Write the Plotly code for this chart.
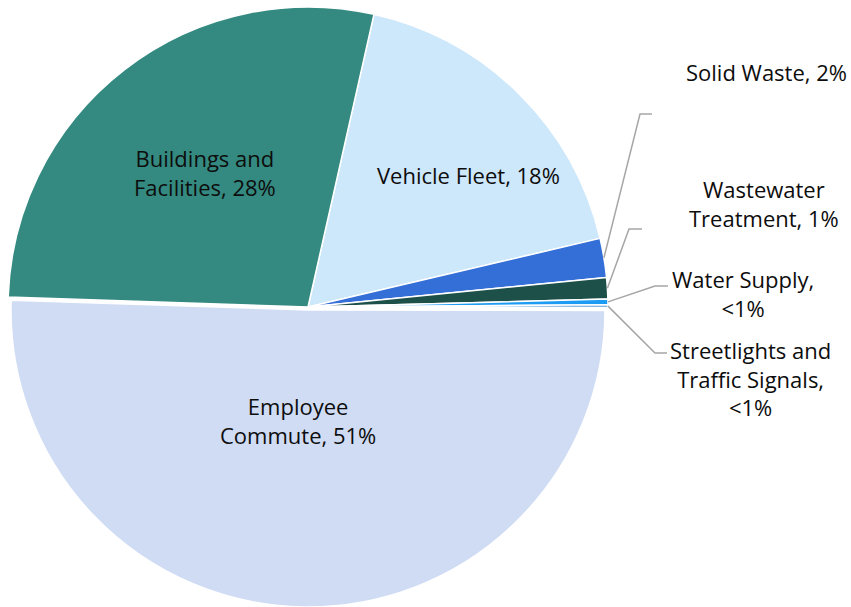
import math
import plotly.graph_objects as go

W, H = 851, 607

categories = ["Vehicle Fleet", "Solid Waste", "Wastewater Treatment", "Water Supply",
              "Streetlights and Traffic Signals", "Employee Commute", "Buildings and Facilities"]
values = [17.8, 2.1, 1.15, 0.3, 0.15, 50.5, 28.0]
colors = ["#cde7fb", "#346fd8", "#1e504a", "#1e9bf2", "#5b9bd5", "#cfdcf4", "#348a80"]
label_texts = ["Vehicle Fleet, 18%", "Solid Waste, 2%", "Wastewater<br>Treatment, 1%",
               "Water Supply,<br><1%", "Streetlights and<br>Traffic Signals,<br><1%",
               "Employee<br>Commute, 51%", "Buildings and<br>Facilities, 28%"]
# label centres in pixels
label_pos = [(468, 175), (766, 72), (764, 203), (743, 293), (750, 378), (298, 420), (205, 172)]
# leader-line elbow and end (pixels) for the small slices
leader = {1: [(640, 114), (652, 114)], 2: [(629, 229), (642, 229)],
          3: [(655, 286), (668, 286)], 4: [(655, 353), (667, 353)]}

ROT = 12.7
CX, CY, R = 308, 307, 300          # main pie
CXE, CYE, RE = 308, 310, 297        # exploded Employee slice
EXPLODED = 5

def px(x):
    return x / W

def py(y):
    return 1 - y / H

clear = "rgba(0,0,0,0)"
n = len(values)

main_colors = [clear if i == EXPLODED else c for i, c in enumerate(colors)]
main_lw = [0 if i == EXPLODED else 1.5 for i in range(n)]
exp_colors = [colors[i] if i == EXPLODED else clear for i in range(n)]
exp_lw = [1.5 if i == EXPLODED else 0 for i in range(n)]

common = dict(labels=categories, values=values, sort=False, direction="clockwise",
              rotation=ROT, textinfo="none", hoverinfo="label+percent", showlegend=False)

fig = go.Figure()
fig.add_trace(go.Pie(**common,
                     marker=dict(colors=main_colors, line=dict(color=["white"] * n, width=main_lw)),
                     domain=dict(x=[px(CX - R), px(CX + R)], y=[py(CY + R), py(CY - R)])))
fig.add_trace(go.Pie(**common,
                     marker=dict(colors=exp_colors, line=dict(color=["white"] * n, width=exp_lw)),
                     domain=dict(x=[px(CXE - RE), px(CXE + RE)], y=[max(0, py(CYE + RE)), py(CYE - RE)])))

FONT = dict(family="Open Sans", size=22, color="#0d0d0d")
total = sum(values)
cum = 0.0
for i, v in enumerate(values):
    mid = ROT + (cum + v / 2) / total * 360
    cum += v
    lx, ly = label_pos[i]
    fig.add_annotation(x=px(lx), y=py(ly), xref="paper", yref="paper", text=label_texts[i],
                       showarrow=False, xanchor="center", yanchor="middle", align="center", font=FONT)
    if i in leader:
        a = math.radians(mid)
        sx, sy = CX + R * math.sin(a), CY - R * math.cos(a)
        pts = [(sx, sy)] + leader[i]
        path = "M " + " L ".join(f"{px(x)},{py(y)}" for x, y in pts)
        fig.add_shape(type="path", path=path, xref="paper", yref="paper",
                      line=dict(color="#a6a6a6", width=1.5))

fig.update_layout(width=W, height=H, margin=dict(l=0, r=0, t=0, b=0),
                  paper_bgcolor="white", plot_bgcolor="white")
fig.write_html("out.html", config={"displayModeBar": False},
               post_script="document.body.style.margin='0px';")
